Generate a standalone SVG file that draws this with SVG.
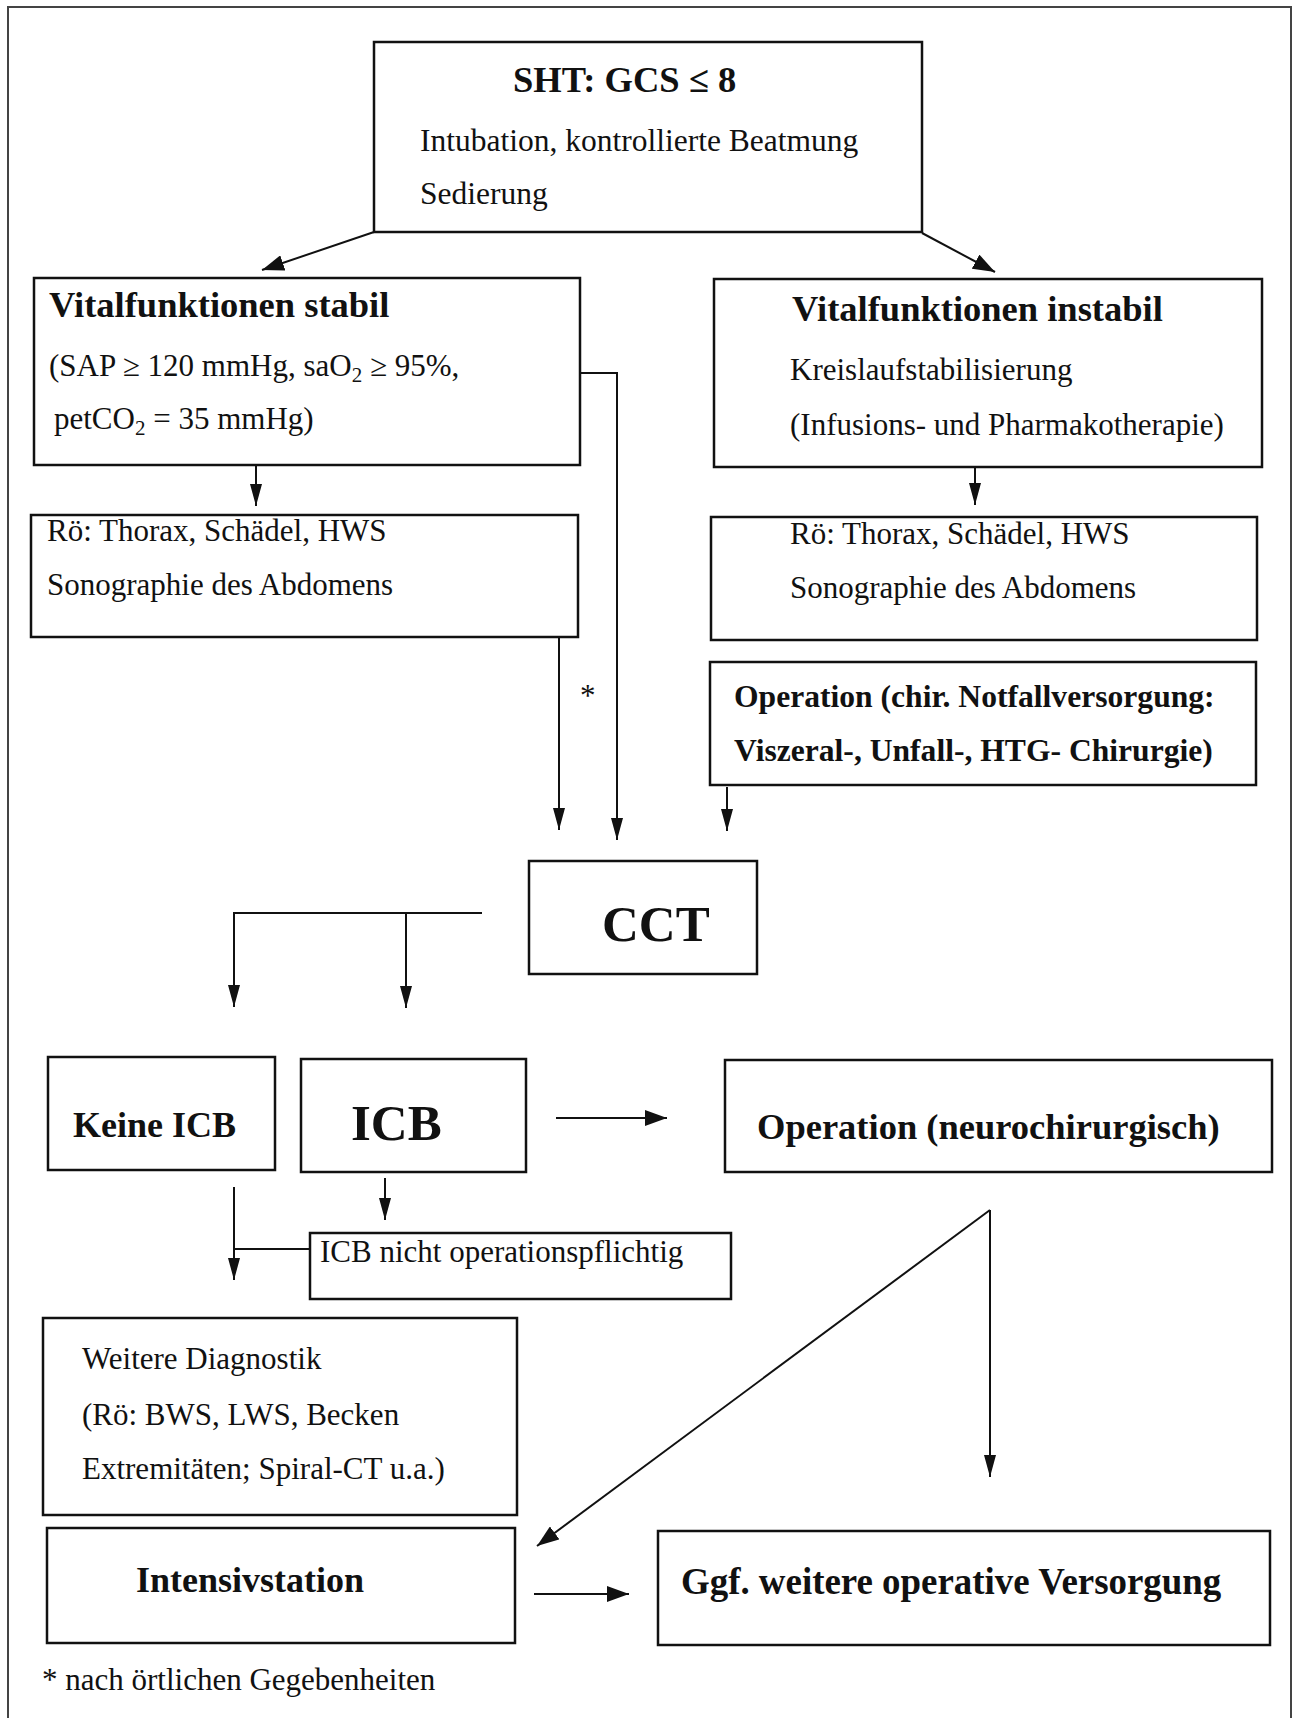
<svg xmlns="http://www.w3.org/2000/svg" width="1293" height="1718" viewBox="0 0 1293 1718">
<style>
.box{fill:#fff;stroke:#111;stroke-width:2.5}
.t{font-family:"Liberation Serif","Times New Roman",serif;font-size:31px;fill:#111}
.b{font-weight:bold}
.h{font-size:36px}
.c{fill:none;stroke:#111;stroke-width:2}
.sub{font-size:21px}
</style>
<defs>
<marker id="arr" viewBox="0 0 22 12" refX="22" refY="6" markerWidth="22" markerHeight="12" markerUnits="userSpaceOnUse" orient="auto">
<path d="M0,0 L22,6 L0,12 z" fill="#111"/>
</marker>
<marker id="arrB" viewBox="0 0 22 16" refX="22" refY="8" markerWidth="22" markerHeight="16" markerUnits="userSpaceOnUse" orient="auto">
<path d="M0,0 L22,8 L0,16 z" fill="#111"/>
</marker>
</defs>
<rect width="1293" height="1718" fill="#fff"/>
<path d="M8,1718 V7 H1291 V1718" fill="none" stroke="#444" stroke-width="2"/>

<g id="connectors">
<line class="c" x1="374" y1="232" x2="262" y2="270" marker-end="url(#arrB)"/>
<line class="c" x1="922" y1="233" x2="995" y2="272" marker-end="url(#arrB)"/>
<line class="c" x1="256" y1="465" x2="256" y2="506" marker-end="url(#arr)"/>
<line class="c" x1="975" y1="467" x2="975" y2="505" marker-end="url(#arr)"/>
<path class="c" d="M580,373 H617 V840" marker-end="url(#arr)"/>
<line class="c" x1="559" y1="637" x2="559" y2="830" marker-end="url(#arr)"/>
<line class="c" x1="727" y1="787" x2="727" y2="831" marker-end="url(#arr)"/>
<text class="t" x="580" y="706">*</text>
<path class="c" d="M482,913 H234 V1007" stroke-width="2.5" marker-end="url(#arr)"/>
<line class="c" x1="406" y1="913" x2="406" y2="1008" marker-end="url(#arr)"/>
<line class="c" x1="556" y1="1118" x2="667" y2="1118" marker-end="url(#arrB)"/>
<line class="c" x1="385" y1="1178" x2="385" y2="1220" marker-end="url(#arr)"/>
<line class="c" x1="234" y1="1187" x2="234" y2="1280" marker-end="url(#arr)"/>
<line class="c" x1="234" y1="1249" x2="310" y2="1249"/>
<line class="c" x1="990" y1="1210" x2="537" y2="1546" marker-end="url(#arrB)"/>
<line class="c" x1="990" y1="1210" x2="990" y2="1477" marker-end="url(#arr)"/>
<line class="c" x1="534" y1="1594" x2="629" y2="1594" marker-end="url(#arrB)"/>
</g>

<g id="sht">
<rect class="box" x="374" y="42" width="548" height="190"/>
<text class="t b" x="513" y="92" style="font-size:36.5px">SHT: GCS ≤ 8</text>
<text class="t" x="420" y="151" style="font-size:31.5px">Intubation, kontrollierte Beatmung</text>
<text class="t" x="420" y="204" style="font-size:31.5px">Sedierung</text>
</g>

<g id="stabil">
<rect class="box" x="34" y="278" width="546" height="187"/>
<text class="t b" x="49" y="317" style="font-size:36.5px">Vitalfunktionen stabil</text>
<text class="t" x="49" y="376">(SAP ≥ 120 mmHg, saO<tspan class="sub" dy="6">2</tspan><tspan dy="-6"> ≥ 95%,</tspan></text>
<text class="t" x="54" y="429">petCO<tspan class="sub" dy="6">2</tspan><tspan dy="-6"> = 35 mmHg)</tspan></text>
</g>

<g id="instabil">
<rect class="box" x="714" y="279" width="548" height="188"/>
<text class="t b" x="792" y="321" style="font-size:36.5px">Vitalfunktionen instabil</text>
<text class="t" x="790" y="380">Kreislaufstabilisierung</text>
<text class="t" x="790" y="435">(Infusions- und Pharmakotherapie)</text>
</g>

<g id="roe-links">
<rect class="box" x="31" y="515" width="547" height="122"/>
<text class="t" x="47" y="541">Rö: Thorax, Schädel, HWS</text>
<text class="t" x="47" y="595">Sonographie des Abdomens</text>
</g>

<g id="roe-rechts">
<rect class="box" x="711" y="517" width="546" height="123"/>
<text class="t" x="790" y="544">Rö: Thorax, Schädel, HWS</text>
<text class="t" x="790" y="598">Sonographie des Abdomens</text>
</g>

<g id="op-chir">
<rect class="box" x="710" y="662" width="546" height="123"/>
<text class="t b" x="734" y="707" style="font-size:31.6px">Operation (chir. Notfallversorgung:</text>
<text class="t b" x="734" y="761" style="font-size:31.6px">Viszeral-, Unfall-, HTG- Chirurgie)</text>
</g>

<g id="cct">
<rect class="box" x="529" y="861" width="228" height="113"/>
<text class="t b" x="602" y="941" style="font-size:51px">CCT</text>
</g>

<g id="keine-icb">
<rect class="box" x="48" y="1057" width="227" height="113"/>
<text class="t b h" x="73" y="1137">Keine ICB</text>
</g>

<g id="icb">
<rect class="box" x="301" y="1059" width="225" height="113"/>
<text class="t b" x="351" y="1140" style="font-size:51px">ICB</text>
</g>

<g id="op-neuro">
<rect class="box" x="725" y="1060" width="547" height="112"/>
<text class="t b" x="757" y="1139" style="font-size:36.5px">Operation (neurochirurgisch)</text>
</g>

<g id="icb-nicht-op">
<rect class="box" x="310" y="1233" width="421" height="66"/>
<text class="t" x="320" y="1262">ICB nicht operationspflichtig</text>
</g>

<g id="weitere-diagnostik">
<rect class="box" x="43" y="1318" width="474" height="197"/>
<text class="t" x="82" y="1369">Weitere Diagnostik</text>
<text class="t" x="82" y="1425">(Rö: BWS, LWS, Becken</text>
<text class="t" x="82" y="1479">Extremitäten; Spiral-CT u.a.)</text>
</g>

<g id="intensivstation">
<rect class="box" x="47" y="1528" width="468" height="115"/>
<text class="t b h" x="136" y="1592">Intensivstation</text>
</g>

<g id="ggf">
<rect class="box" x="658" y="1531" width="612" height="114"/>
<text class="t b" x="681" y="1594" style="font-size:36.9px">Ggf. weitere operative Versorgung</text>
</g>

<text class="t" x="42" y="1690">* nach örtlichen Gegebenheiten</text>
</svg>
